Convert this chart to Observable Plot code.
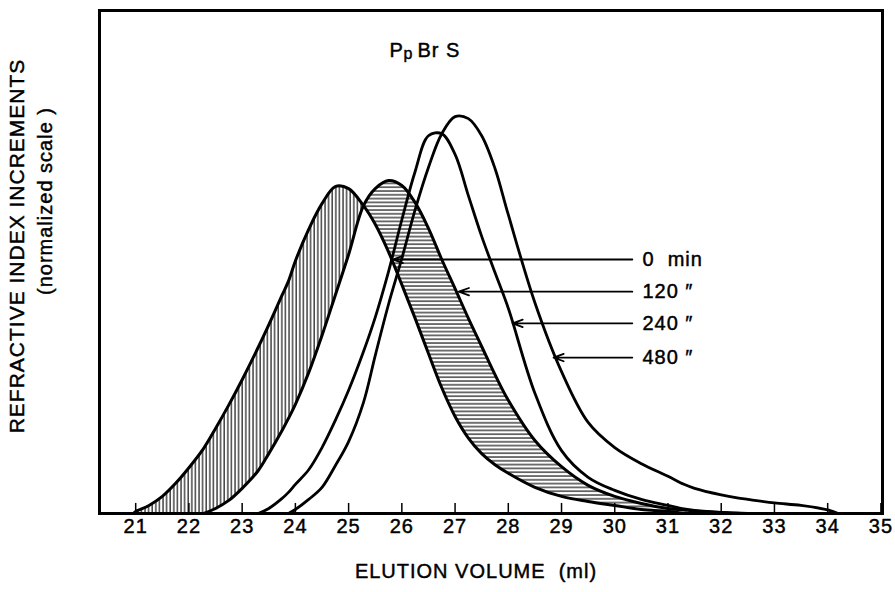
<!DOCTYPE html>
<html>
<head>
<meta charset="utf-8">
<script src="https://cdn.jsdelivr.net/npm/d3@7"></script>
<script src="https://cdn.jsdelivr.net/npm/@observablehq/plot@0.6"></script>
<style>
  html, body { margin: 0; padding: 0; background: #fff; }
  svg { display: block; }
  #chart text { letter-spacing: 1px; }
</style>
</head>
<body>
<div id="chart"></div>
<script>
// Elution volume grid (ml)
const volume = [20.96, 21.0, 21.25, 21.5, 21.75, 22.0, 22.28, 22.5, 22.75, 23.0, 23.3, 23.5, 23.75, 23.87, 24.0, 24.25, 24.5, 24.75, 25.0, 25.28, 25.5, 25.75, 26.0, 26.25, 26.5, 26.75, 27.0, 27.25, 27.5, 27.75, 28.0, 28.5, 29.0, 29.5, 30.0, 30.5, 31.0, 31.3, 31.5, 32.0, 32.3, 32.5, 33.0, 33.5, 34.0, 34.2];

// Refractive index increments (normalized scale, frame top = 100)
const min0   = [0, 0.4, 1.6, 3.4, 6.0, 9.1, 13.0, 16.9, 21.6, 26.6, 33.0, 37.5, 43.4, 46.2, 50.2, 56.5, 61.6, 65.0, 64.6, 61.2, 57.5, 52.0, 45.5, 38.8, 31.8, 25.0, 19.3, 15.0, 11.9, 9.7, 8.0, 5.2, 3.4, 2.4, 1.6, 0.8, 0.4, 0, null, null, null, null, null, null, null, null];
const min120 = [null, null, null, null, null, null, 0, 1.0, 2.6, 5.0, 8.5, 11.9, 16.5, 18.9, 21.7, 28.0, 35.4, 43.4, 51.5, 61.2, 64.6, 66.2, 65.2, 61.8, 56.7, 50.5, 44.7, 38.8, 33.2, 27.6, 22.5, 14.5, 9.3, 5.6, 3.4, 2.0, 1.0, 0.7, 0.5, 0.2, 0, null, null, null, null, null];
const min240 = [null, null, null, null, null, null, null, null, null, null, 0, 1.0, 3.0, 4.2, 5.8, 8.7, 13.1, 18.5, 24.5, 32.2, 39.0, 48.1, 58.4, 68.0, 75.1, 75.5, 71.4, 63.2, 55.1, 47.9, 40.8, 23.9, 12.5, 7.2, 4.6, 2.8, 1.6, 0.9, 0.6, 0.2, 0.1, 0, null, null, null, null];
const min480 = [null, null, null, null, null, null, null, null, null, null, null, null, null, 0, 0.8, 2.8, 5.2, 9.5, 14.3, 22.1, 31.4, 41.6, 50.7, 60.4, 68.8, 75.5, 78.9, 78.5, 75.1, 68.6, 59.4, 41.9, 28.2, 18.1, 13.1, 9.9, 7.4, 5.8, 5.0, 3.7, 3.1, 2.8, 2.1, 1.6, 0.7, 0];

// crossing of the 0 min and 120 min curves
const crossing = 25.28;

// x ticks
const ticks = [21, 22, 23, 24, 25, 26, 27, 28, 29, 30, 31, 32, 33, 34, 35];

// legend arrows
const legendText = ["0  min", "120 \u2033", "240 \u2033", "480 \u2033"];
const arrowTipX = [25.83, 27.07, 28.08, 28.85];
const arrowY = [50.5, 44.1, 37.8, 31.0];
const arrowStartX = 30.33;
const legendX = 30.52;

const rows = volume.map((v, i) => ({v, m0: min0[i], m120: min120[i], m240: min240[i], m480: min480[i]}));
const legend = legendText.map((t, i) => ({t, x2: arrowTipX[i], y: arrowY[i]}));

const font = "Liberation Sans, Arial, Helvetica, sans-serif";
const curve = "catmull-rom";
const tickLen = 2.0;
const ink = {fill: "#000", stroke: "#000", strokeWidth: 0.45};

const plot = Plot.plot({
  width: 895,
  height: 592,
  marginLeft: 99,
  marginRight: 13,
  marginTop: 10,
  marginBottom: 79,
  style: {fontFamily: font, background: "#fff", color: "#000"},
  x: {domain: [20.32, 35.03], axis: null},
  y: {domain: [0, 100], axis: null},
  marks: [
    // hatched differences between 0 min and 120 min
    Plot.areaY(rows.filter(d => d.m0 != null && d.v <= crossing), {
      x: "v", y1: d => d.m120 ?? 0, y2: "m0", fill: "url(#vhatch)", curve
    }),
    Plot.areaY(rows.filter(d => d.m0 != null && d.v >= crossing), {
      x: "v", y1: "m0", y2: "m120", fill: "url(#hhatch)", curve
    }),
    Plot.line(rows, {x: "v", y: "m0", stroke: "#000", strokeWidth: 3, curve}),
    Plot.line(rows, {x: "v", y: "m120", stroke: "#000", strokeWidth: 3, curve}),
    Plot.line(rows, {x: "v", y: "m240", stroke: "#000", strokeWidth: 2.8, curve}),
    Plot.line(rows, {x: "v", y: "m480", stroke: "#000", strokeWidth: 2.8, curve}),
    // inward ticks
    Plot.ruleX(ticks, {x: d => d, y1: 0, y2: tickLen, stroke: "#000", strokeWidth: 1.5}),
    Plot.text(ticks, {x: d => d, frameAnchor: "bottom", dy: 19, text: d => String(d), fontSize: 20, ...ink}),
    Plot.frame({stroke: "#000", strokeWidth: 3}),
    // legend arrows and labels
    Plot.arrow(legend, {x1: arrowStartX, y1: "y", x2: "x2", y2: "y", stroke: "#000", strokeWidth: 1.8, headLength: 9, headAngle: 40}),
    Plot.text(legend, {x: legendX, y: "y", text: "t", textAnchor: "start", fontSize: 20, ...ink}),
    // sample title
    Plot.text(["P"], {frameAnchor: "top-left", dx: 290, dy: 32, textAnchor: "start", fontSize: 20, ...ink}),
    Plot.text(["p"], {frameAnchor: "top-left", dx: 304, dy: 37, textAnchor: "start", fontSize: 16, ...ink}),
    Plot.text(["Br S"], {frameAnchor: "top-left", dx: 318, dy: 32, textAnchor: "start", fontSize: 20, ...ink}),
    // axis titles
    Plot.text(["ELUTION VOLUME  (ml)"], {frameAnchor: "bottom", dx: -15, dy: 64, fontSize: 20, ...ink}),
    Plot.text(["REFRACTIVE INDEX INCREMENTS"], {frameAnchor: "left", textAnchor: "middle", dx: -82, dy: -16, rotate: -90, fontSize: 21, ...ink}),
    Plot.text(["(normalized scale )"], {frameAnchor: "left", textAnchor: "middle", dx: -54, dy: -61, rotate: -90, fontSize: 20, ...ink})
  ]
});

const defs = d3.select(plot).insert("defs", ":first-child");
const vp = defs.append("pattern").attr("id", "vhatch").attr("patternUnits", "userSpaceOnUse")
  .attr("width", 3.6).attr("height", 10);
vp.append("line").attr("x1", 1).attr("x2", 1).attr("y1", 0).attr("y2", 10).attr("stroke", "#000").attr("stroke-width", 1.1);
const hp = defs.append("pattern").attr("id", "hhatch").attr("patternUnits", "userSpaceOnUse")
  .attr("width", 10).attr("height", 3.8);
hp.append("line").attr("x1", 0).attr("x2", 10).attr("y1", 1).attr("y2", 1).attr("stroke", "#000").attr("stroke-width", 1.1);

document.getElementById("chart").appendChild(plot);
</script>
</body>
</html>
